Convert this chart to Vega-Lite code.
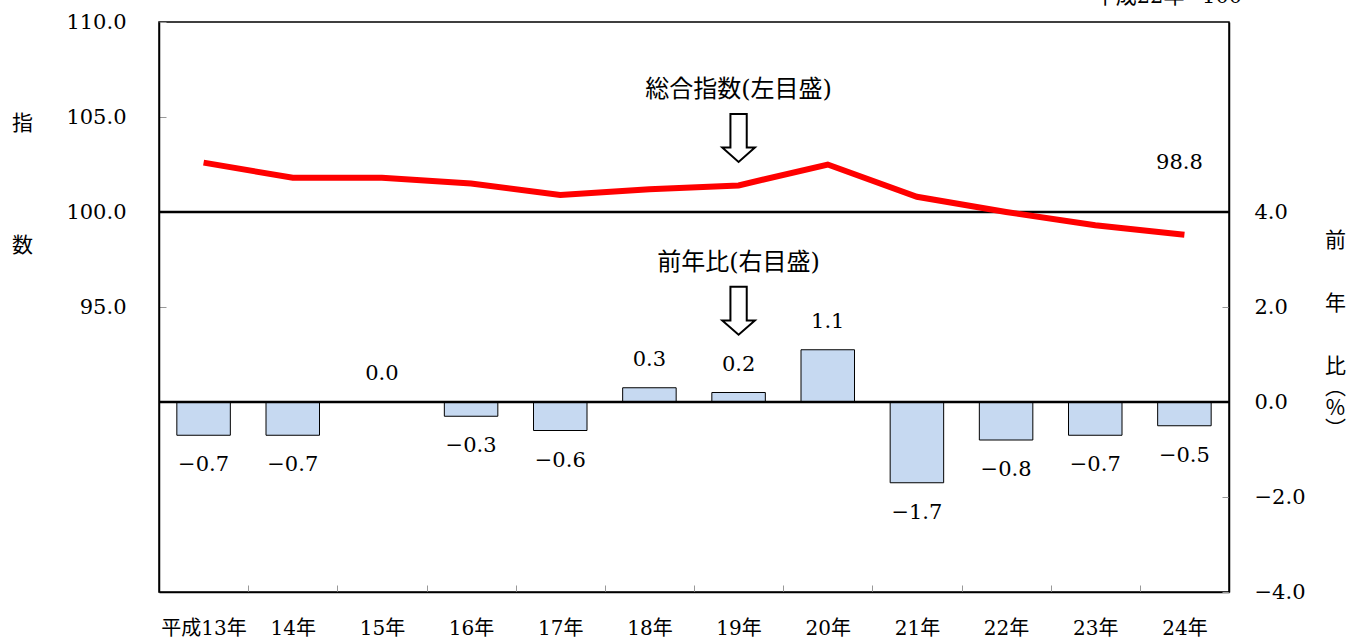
{
  "$schema": "https://vega.github.io/schema/vega-lite/v6.json",
  "width": 1070,
  "height": 570,
  "autosize": {"type": "none"},
  "padding": {"left": 159, "top": 22, "right": 125, "bottom": 49},
  "background": "white",
  "config": {
    "font": "DejaVu Serif, Noto Sans CJK JP",
    "text": {"font": "DejaVu Serif, Noto Sans CJK JP"},
    "view": {"stroke": "black", "strokeWidth": 1.5},
    "axis": {"grid": false, "labelFont": "DejaVu Serif, Noto Sans CJK JP", "titleFont": "DejaVu Serif, Noto Sans CJK JP", "labelColor": "black", "titleColor": "black", "titleFontWeight": "normal", "domainColor": "black", "domainWidth": 1.5, "tickColor": "#999999"}
  },
  "datasets": {
    "main": [
      {"year": "平成13年", "index": 102.6, "change": -0.7},
      {"year": "14年", "index": 101.8, "change": -0.7},
      {"year": "15年", "index": 101.8, "change": 0.0},
      {"year": "16年", "index": 101.5, "change": -0.3},
      {"year": "17年", "index": 100.9, "change": -0.6},
      {"year": "18年", "index": 101.2, "change": 0.3},
      {"year": "19年", "index": 101.4, "change": 0.2},
      {"year": "20年", "index": 102.5, "change": 1.1},
      {"year": "21年", "index": 100.8, "change": -1.7},
      {"year": "22年", "index": 100.0, "change": -0.8},
      {"year": "23年", "index": 99.3, "change": -0.7},
      {"year": "24年", "index": 98.8, "change": -0.5}
    ],
    "notes": [
      {"year": "19年", "index": 106.4, "text": "総合指数(左目盛)"},
      {"year": "19年", "index": 97.3, "text": "前年比(右目盛)"}
    ],
    "last": [
      {"year": "24年", "index": 102.6, "text": "98.8"}
    ],
    "arrows": [
      {"year": "19年", "index": 103.9},
      {"year": "19年", "index": 94.8}
    ],
    "base": [
      {"year": "24年", "index": 111.3, "text": "平成22年=100"}
    ],
    "one": [{}]
  },
  "layer": [
    {
      "layer": [
        {
          "data": {"name": "main"},
          "mark": {"type": "bar", "width": {"band": 0.6}, "color": "#C6D9F1", "stroke": "black", "strokeWidth": 1},
          "encoding": {
            "x": {
              "field": "year", "type": "nominal", "sort": null,
              "scale": {"paddingInner": 0, "paddingOuter": 0},
              "axis": {"title": null, "labelAngle": 0, "labelFontSize": 20, "labelFont": "DejaVu Serif, Noto Sans CJK JP", "tickBand": "extent", "tickSize": -7, "labelPadding": 33, "domainWidth": 1.5}
            },
            "y": {
              "field": "change", "type": "quantitative",
              "scale": {"domain": [-4, 8], "nice": false, "zero": false},
              "axis": {"orient": "right", "values": [-4, -2, 0, 2, 4], "format": ".1f", "labelFontSize": 21, "labelFont": "DejaVu Serif", "tickSize": -7, "labelPadding": 32,
                "title": ["前", "\u200b", "\u200b", "年", "\u200b", "\u200b", "比", "︵", "%", "︶"], "titleFont": "Noto Sans CJK JP", "titleAngle": 0, "titleFontSize": 21, "titleLineHeight": 21, "titleAlign": "center", "titleBaseline": "middle", "titleX": 106, "titleY": 218}
            }
          }
        },
        {
          "data": {"name": "main"},
          "mark": {"type": "text", "fontSize": 21, "font": "DejaVu Serif", "baseline": "middle", "dy": {"expr": "datum.change >= 0 ? -28 : 30"}},
          "encoding": {
            "x": {"field": "year", "type": "nominal", "sort": null},
            "y": {"field": "change", "type": "quantitative"},
            "text": {"field": "change", "type": "quantitative", "format": ".1f"}
          }
        },
        {
          "data": {"name": "one"},
          "mark": {"type": "rule", "color": "black", "strokeWidth": 2.5},
          "encoding": {"y": {"datum": 0}}
        }
      ]
    },
    {
      "layer": [
        {
          "data": {"name": "one"},
          "mark": {"type": "rule", "color": "black", "strokeWidth": 2.5},
          "encoding": {"y": {"datum": 100, "type": "quantitative", "scale": {"domain": [80, 110], "nice": false, "zero": false},
            "axis": {"orient": "left", "values": [95, 100, 105, 110], "format": ".1f", "labelFontSize": 21, "labelFont": "DejaVu Serif", "tickSize": -7, "labelPadding": 40,
              "title": ["指", "数"], "titleFont": "Noto Sans CJK JP", "titleAngle": 0, "titleFontSize": 21, "titleLineHeight": 122, "titleAlign": "center", "titleBaseline": "middle", "titleX": -137, "titleY": 101}}}
        },
        {
          "data": {"name": "main"},
          "mark": {"type": "line", "color": "#FF0000", "strokeWidth": 6},
          "encoding": {"x": {"field": "year", "type": "nominal", "sort": null}, "y": {"field": "index", "type": "quantitative"}}
        },
        {
          "data": {"name": "notes"},
          "mark": {"type": "text", "fontSize": 24, "baseline": "middle"},
          "encoding": {"x": {"field": "year", "type": "nominal", "sort": null}, "y": {"field": "index", "type": "quantitative"}, "text": {"field": "text"}}
        },
        {
          "data": {"name": "last"},
          "mark": {"type": "text", "fontSize": 21, "baseline": "middle", "dx": -5},
          "encoding": {"x": {"field": "year", "type": "nominal", "sort": null}, "y": {"field": "index", "type": "quantitative"}, "text": {"field": "text"}}
        },
        {
          "data": {"name": "arrows"},
          "mark": {"type": "point", "filled": true, "fill": "white", "stroke": "black", "strokeWidth": 2, "opacity": 1, "size": 2300,
            "shape": "M-0.34,-1 L0.34,-1 L0.34,0.4 L0.68,0.4 L0,1 L-0.68,0.4 L-0.34,0.4 Z"},
          "encoding": {"x": {"field": "year", "type": "nominal", "sort": null}, "y": {"field": "index", "type": "quantitative"}}
        },
        {
          "data": {"name": "base"},
          "mark": {"type": "text", "fontSize": 21, "baseline": "middle", "dx": -16},
          "encoding": {"x": {"field": "year", "type": "nominal", "sort": null}, "y": {"field": "index", "type": "quantitative"}, "text": {"field": "text"}}
        }
      ]
    }
  ],
  "resolve": {"scale": {"y": "independent"}}
}
